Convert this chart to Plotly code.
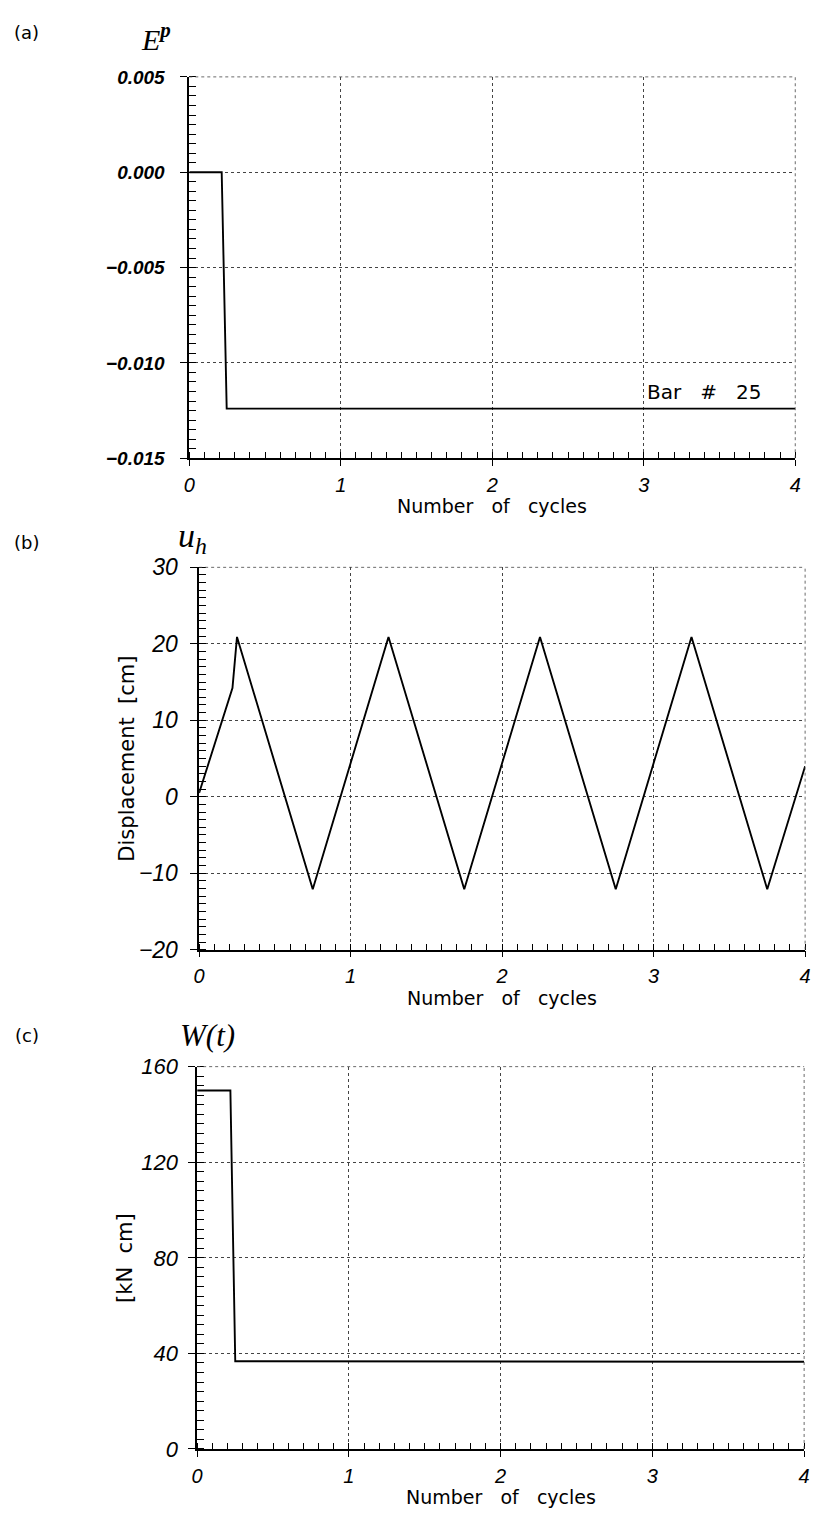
import plotly.graph_objects as go

# ---------------- data ----------------
ep_cycles = [0.0, 0.214, 0.247, 4.0]
ep_values = [0.0, 0.0, -0.0124, -0.0124]

uh_cycles = [0.0, 0.22, 0.25, 0.75, 1.25, 1.75, 2.25, 2.75, 3.25, 3.75, 4.0]
uh_values = [0.5, 14.2, 20.9, -12.1, 20.9, -12.1, 20.9, -12.1, 20.9, -12.1, 4.0]

w_cycles = [0.0, 0.219, 0.251, 4.0]
w_values = [150.0, 150.0, 36.7, 36.5]

x_ticks = [0, 1, 2, 3, 4]

W, H = 819, 1518

def dom_x(a, b):
    return [a / W, b / W]

def dom_y(top, bottom):
    return [(H - bottom) / H, (H - top) / H]

panels = [
    dict(x=dom_x(186, 801), y=dom_y(65, 453), yr=[-0.015, 0.005], ydt=0.005,
         yminor=0.0005, fmt=".3f", ysize=19, yweight="bold", ystand=12),
    dict(x=dom_x(196, 811), y=dom_y(564, 953), yr=[-20, 30], ydt=10,
         yminor=1, fmt="d", ysize=23, yweight="normal", ystand=8),
    dict(x=dom_x(194, 810), y=dom_y(1072, 1461), yr=[0, 160], ydt=40,
         yminor=4, fmt="d", ysize=22, yweight="normal", ystand=6),
]

fig = go.Figure()
series = [(ep_cycles, ep_values), (uh_cycles, uh_values), (w_cycles, w_values)]
for i, (xs, ys) in enumerate(series):
    sfx = "" if i == 0 else str(i + 1)
    fig.add_trace(go.Scatter(x=xs, y=ys, mode="lines",
                             line=dict(color="black", width=1.9),
                             xaxis="x" + sfx, yaxis="y" + sfx,
                             showlegend=False, hoverinfo="skip"))

grid_style = dict(gridcolor="#444444", gridwidth=0.8, griddash="3px,3px")
tick_font_family = "Liberation Sans, Arial, sans-serif"

layout = dict(width=W, height=H, margin=dict(l=0, r=0, t=0, b=0, pad=0),
              paper_bgcolor="white", plot_bgcolor="white", showlegend=False)

shapes = []
for i, p in enumerate(panels):
    sfx = "" if i == 0 else str(i + 1)
    layout["xaxis" + sfx] = dict(
        domain=p["x"], anchor="y" + sfx, range=[0, 4],
        tickmode="array", tickvals=x_ticks, ticktext=[str(v) for v in x_ticks],
        ticks="outside", ticklen=6, tickwidth=1.3, tickcolor="black",
        showline=True, linecolor="black", linewidth=1.6,
        showgrid=True, **grid_style, zeroline=False,
        tickfont=dict(family=tick_font_family, size=20, color="black",
                      style="italic"),
        ticklabelstandoff=2,
        minor=dict(dtick=0.1, ticks="inside", ticklen=6, tickwidth=1.2,
                   tickcolor="black", showgrid=False),
        fixedrange=True,
    )
    layout["yaxis" + sfx] = dict(
        domain=p["y"], anchor="x" + sfx, range=p["yr"],
        tickmode="linear", tick0=p["yr"][0], dtick=p["ydt"],
        tickformat=p["fmt"],
        ticks="outside", ticklen=7, tickwidth=1.3, tickcolor="black",
        showline=True, linecolor="black", linewidth=1.6,
        showgrid=True, **grid_style, zeroline=False,
        tickfont=dict(family=tick_font_family, size=p["ysize"], color="black",
                      style="italic", weight=p["yweight"]),
        ticklabelstandoff=p["ystand"],
        minor=dict(dtick=p["yminor"], ticks="inside", ticklen=7, tickwidth=1.2,
                   tickcolor="black", showgrid=False),
        fixedrange=True,
    )
    xr = "x" + sfx + " domain"
    yr = "y" + sfx + " domain"
    shapes.append(dict(type="line", xref=xr, yref=yr, x0=0, x1=1, y0=1, y1=1,
                       line=dict(color="#444444", width=0.8, dash="3px,3px")))
    shapes.append(dict(type="line", xref=xr, yref=yr, x0=1, x1=1, y0=0, y1=1,
                       line=dict(color="#444444", width=0.8, dash="3px,3px")))

layout["shapes"] = shapes
fig.update_layout(**layout)

label_font = dict(family="DejaVu Sans, Verdana, sans-serif", size=20, color="black")
serif_family = "Liberation Serif, Times New Roman, serif"

gap = "\u00a0\u00a0 "
gap2 = "\u00a0 "
ann = []
for i in range(3):
    sfx = "" if i == 0 else str(i + 1)
    ann.append(dict(text="Number" + gap + "of" + gap + "cycles", xref="x" + sfx + " domain",
                    yref="y" + sfx + " domain", x=0.5, y=0, xanchor="center",
                    yanchor="middle", yshift=-48, showarrow=False,
                    font=dict(label_font, size=19)))
ann.append(dict(text="Displacement" + gap2 + "[cm]", xref="x2 domain", yref="y2 domain",
                x=0, y=0.5, xanchor="center", yanchor="middle", xshift=-73,
                textangle=-90, showarrow=False, font=dict(label_font, size=21)))
ann.append(dict(text="[kN" + gap2 + "cm]", xref="x3 domain", yref="y3 domain",
                x=0, y=0.5, xanchor="center", yanchor="middle", xshift=-72,
                textangle=-90, showarrow=False, font=dict(label_font, size=21)))
for txt, yy in [("(a)", 20), ("(b)", 539), ("(c)", 1040)]:
    ann.append(dict(text=txt, xref="paper", yref="paper", x=21 / W, y=1 - yy / H,
                    xanchor="center", yanchor="middle", showarrow=False,
                    font=dict(label_font, size=18)))
ann.append(dict(text="<i>E</i><sup><b><i>p</i></b></sup>", xref="paper", yref="paper",
                x=152 / W, y=1 - 24 / H, xanchor="center", yanchor="middle",
                showarrow=False, font=dict(family=serif_family, size=30, color="black")))
ann.append(dict(text="<i>u<sub>h</sub></i>", xref="paper", yref="paper",
                x=189 / W, y=1 - 534 / H, xanchor="center", yanchor="middle",
                showarrow=False, font=dict(family=serif_family, size=34, color="black")))
ann.append(dict(text="<i>W(t)</i>", xref="paper", yref="paper",
                x=204 / W, y=1 - 1040 / H, xanchor="center", yanchor="middle",
                showarrow=False, font=dict(family=serif_family, size=31, color="black")))
ann.append(dict(text="Bar" + gap + "#" + gap + "25", xref="x", yref="y", x=3.01, y=-0.0115,
                xanchor="left", yanchor="middle", showarrow=False,
                font=dict(label_font, size=20)))

fig.update_layout(annotations=ann)

fit_script = (
    "document.documentElement.style.cssText='margin:0;padding:0;overflow:hidden';"
    "document.body.style.cssText='margin:0;padding:0;overflow:hidden';"
)

fig.write_html(
    "out.html",
    config={"displayModeBar": False},
    post_script=[fit_script],
)
